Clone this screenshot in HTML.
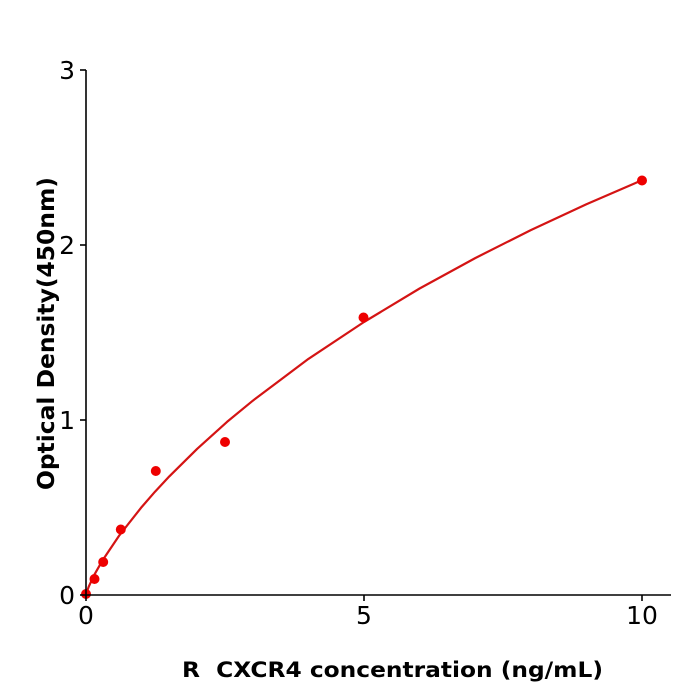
<!DOCTYPE html>
<html>
<head>
<meta charset="utf-8">
<style>
html,body{margin:0;padding:0;background:#fff;}
svg{display:block;}
text{font-family:"DejaVu Sans","Liberation Sans",sans-serif;fill:#000;}
</style>
</head>
<body>
<svg width="700" height="700" viewBox="0 0 700 700" xmlns="http://www.w3.org/2000/svg">
<rect width="700" height="700" fill="#fff"/>
<!-- curve -->
<polyline fill="none" stroke="#d41414" stroke-width="2.2" stroke-linejoin="round"
points="86,595 86.6,592.6 88.8,586.5 94.3,574.8 102.7,560.1 119.4,535.3 141.6,507.1 155,491.7 169.4,476.3 197.2,448.8 227,421.9 252.8,400.7 308.4,358.9 364,322 419.6,288.5 475.2,258.1 530.8,230.1 586.4,204.2 642,180.2"/>
<!-- points -->
<g fill="#ee0000">
<circle cx="86" cy="594" r="5"/>
<circle cx="94.5" cy="579" r="5"/>
<circle cx="103.2" cy="562" r="5"/>
<circle cx="120.8" cy="529.5" r="5"/>
<circle cx="155.8" cy="471" r="5"/>
<circle cx="225" cy="442" r="5"/>
<circle cx="363.5" cy="317.5" r="5"/>
<circle cx="642" cy="180.5" r="5"/>
</g>
<!-- axes -->
<g stroke="#000" stroke-width="1.6" fill="none">
<line x1="86" y1="70" x2="86" y2="596"/>
<line x1="85" y1="595" x2="671" y2="595"/>
<line x1="80" y1="70" x2="86" y2="70"/>
<line x1="80" y1="245" x2="86" y2="245"/>
<line x1="80" y1="420" x2="86" y2="420"/>
<line x1="80" y1="595" x2="86" y2="595"/>
<line x1="86" y1="595" x2="86" y2="601"/>
<line x1="364" y1="595" x2="364" y2="601"/>
<line x1="642" y1="595" x2="642" y2="601"/>
</g>
<!-- tick labels -->
<g font-size="25" text-anchor="end">
<text x="75" y="79">3</text>
<text x="75" y="254">2</text>
<text x="75" y="429">1</text>
<text x="75" y="604">0</text>
</g>
<g font-size="25" text-anchor="middle">
<text x="86" y="624">0</text>
<text x="364" y="624">5</text>
<text x="642" y="624">10</text>
</g>
<!-- axis labels -->
<text x="182" y="677" font-size="21" font-weight="bold" textLength="421" lengthAdjust="spacingAndGlyphs" xml:space="preserve">R  CXCR4 concentration (ng/mL)</text>
<text transform="translate(54,490) rotate(-90)" x="0" y="0" font-size="23" font-weight="bold" textLength="313" lengthAdjust="spacingAndGlyphs">Optical Density(450nm)</text>
</svg>
</body>
</html>
